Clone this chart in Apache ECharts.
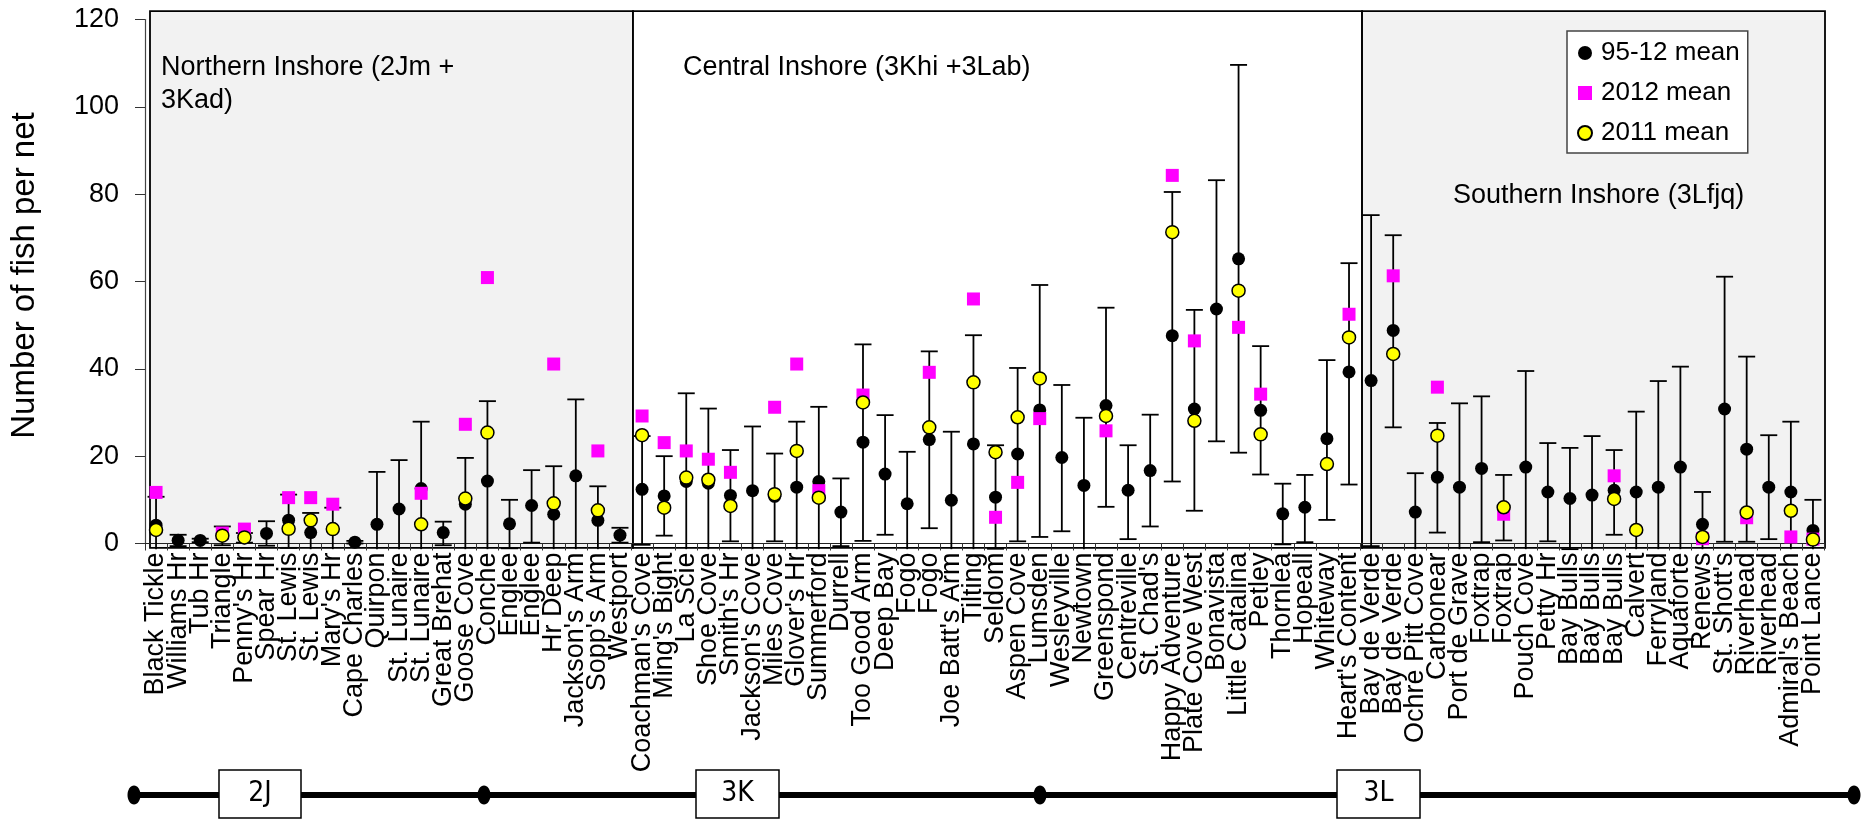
<!DOCTYPE html>
<html>
<head>
<meta charset="utf-8">
<script src="https://cdn.jsdelivr.net/npm/echarts@6.0.0/dist/echarts.min.js"></script>
<style>html,body{margin:0;padding:0;background:#fff;}#chart{width:1875px;height:828px;}</style>
</head>
<body>
<div id="chart"></div>
<script>
const categories = ["Black Tickle","Williams Hr","Tub Hr","Triangle","Penny's Hr","Spear Hr","St. Lewis","St. Lewis","Mary's Hr","Cape Charles",
"Quirpon","St. Lunaire","St. Lunaire","Great Brehat","Goose Cove","Conche","Englee","Englee","Hr Deep","Jackson's Arm",
"Sopp's Arm","Westport","Coachman's Cove","Ming's Bight","La Scie","Shoe Cove","Smith's Hr","Jackson's Cove","Miles Cove","Glover's Hr",
"Summerford","Durrell","Too Good Arm","Deep Bay","Fogo","Fogo","Joe Batt's Arm","Tilting","Seldom","Aspen Cove",
"Lumsden","Wesleyville","Newtown","Greenspond","Centreville","St. Chad's","Happy Adventure","Plate Cove West","Bonavista","Little Catalina",
"Petley","Thornlea","Hopeall","Whiteway","Heart's Content","Bay de Verde","Bay de Verde","Ochre Pitt Cove","Carbonear","Port de Grave",
"Foxtrap","Foxtrap","Pouch Cove","Petty Hr","Bay Bulls","Bay Bulls","Bay Bulls","Calvert","Ferryland","Aquaforte",
"Renews","St. Shott's","Riverhead","Riverhead","Admiral's Beach","Point Lance"];

// 95-12 mean (black circles)
const mean9512 = [4.2,0.75,0.7,1.8,1.3,2.3,5.35,2.5,3.4,0.3,
4.4,7.9,12.6,2.5,9.0,14.3,4.5,8.7,6.7,15.5,
5.3,1.9,12.4,10.9,14.2,13.8,11.0,12.1,10.8,12.9,
14.2,7.2,23.2,15.9,9.1,23.8,9.9,22.8,10.6,20.5,
30.6,19.7,13.3,31.6,12.2,16.7,47.6,30.8,53.7,65.2,
30.5,6.8,8.3,24.0,39.3,37.3,48.8,7.2,15.2,12.9,
17.2,8.2,17.5,11.8,10.3,11.1,12.2,11.8,12.9,17.5,
4.4,30.8,21.6,12.9,11.8,3.0];

// error bar ends for 95-12 mean
const errHigh = [10.7,2.0,1.1,3.9,2.4,5.1,11.2,7.0,8.2,0.6,
16.4,19.1,27.9,5.0,19.6,32.6,10.0,16.8,17.7,33.0,
13.1,3.6,24.6,20.0,34.4,30.9,21.4,26.8,20.6,27.9,
31.3,14.9,45.6,29.4,21.0,44.0,25.6,47.7,22.5,40.2,
59.2,36.3,28.8,54.0,22.5,29.5,80.5,53.5,83.2,109.6,
45.2,13.7,15.7,42.0,64.2,75.2,70.6,16.1,27.6,32.1,
33.7,15.7,39.5,23.0,21.9,24.6,21.4,30.2,37.2,40.5,
11.8,61.1,42.8,24.8,27.9,10.0];
const errLow = [-2.3,-0.6,0.3,-0.4,0.2,-0.5,-1.0,-2.0,-1.4,0.0,
-7.6,-3.3,-2.7,-0.4,-1.6,-4.0,-1.1,0.2,-4.3,-2.0,
-2.5,0.2,-0.3,1.8,-6.0,-3.3,0.5,-2.6,0.5,-2.1,
-2.9,-0.6,0.6,2.0,-2.8,3.5,-5.8,-2.1,-1.2,0.5,
1.5,2.8,-2.2,8.4,1.0,3.9,14.2,7.5,23.4,20.8,
15.8,-0.2,0.3,5.4,13.5,-0.6,26.6,-1.8,2.5,-6.3,
0.3,0.7,-4.5,0.5,-1.3,-2.4,2.0,-6.6,-11.4,-5.5,
-3.0,0.4,0.4,1.0,-4.3,-4.0];

// 2012 mean (magenta squares), null = no value
const mean2012 = [11.7,null,null,2.4,3.3,null,10.5,10.5,9.0,null,
null,null,11.5,null,27.3,60.9,null,null,41.1,null,
21.2,null,29.2,23.1,21.2,19.3,16.3,null,31.2,41.1,
12.1,null,34.0,null,null,39.2,null,56.0,6.0,14.0,
28.6,null,null,25.8,null,null,84.3,46.4,null,49.5,
34.2,null,null,null,52.5,null,61.3,null,35.8,null,
null,6.7,null,null,null,null,15.5,null,null,null,
1.1,null,5.9,null,1.5,1.0];

// 2011 mean (yellow circles)
const mean2011 = [3.1,null,null,1.8,1.4,null,3.35,5.3,3.3,null,
null,null,4.4,null,10.3,25.4,null,null,9.2,null,
7.6,null,24.8,8.2,15.1,14.6,8.6,null,11.3,21.2,
10.5,null,32.3,null,null,26.6,null,36.9,20.9,28.9,
37.8,null,null,29.2,null,null,71.3,28.1,null,57.9,
25.0,null,null,18.2,47.2,null,43.4,null,24.7,null,
null,8.3,null,null,null,null,10.2,3.1,null,null,
1.5,null,7.1,null,7.5,0.9];

const yTicks = {min: 0, max: 120, interval: 20};
const regionLabels = ["Northern Inshore (2Jm +\n3Kad)", "Central Inshore (3Khi +3Lab)", "Southern Inshore (3Lfjq)"];
const regionEnds = [22, 55, 76]; // category count at end of each region
const nafoLabels = ["2J", "3K", "3L"];

const FONT = "'Liberation Sans', Arial, sans-serif";
const NARROW = "'Liberation Sans Narrow', 'Arial Narrow', 'DejaVu Sans Condensed', sans-serif";

function pairs(arr){ const out=[]; arr.forEach((v,i)=>{ if(v!==null && v!==undefined) out.push([i,v]); }); return out; }
const errData = mean9512.map((m,i)=>[i, errHigh[i], errLow[i]]);

const chart = echarts.init(document.getElementById('chart'), null, {renderer:'canvas'});
const FLOOR = -1.3;
const option = {
  animation: false,
  backgroundColor: '#fff',
  textStyle: {fontFamily: FONT},
  grid: {left: 137, top: 19.5, width: 1687, height: 524, containLabel: false},
  legend: {
    data: ['95-12 mean','2012 mean','2011 mean'],
    orient: 'vertical', left: 1567, top: 31,
    padding: [9, 8, 7, 10], itemGap: 14, itemWidth: 14, itemHeight: 14,
    backgroundColor: '#fff', borderColor: '#444', borderWidth: 1.5, borderRadius: 0,
    selectedMode: false, z: 20,
    textStyle: {fontSize: 26, fontFamily: FONT, color: '#000', padding: [0,0,0,4]}
  },
  xAxis: {
    type: 'category', data: categories, boundaryGap: true,
    axisLine: {show: true, lineStyle: {color: '#222', width: 1.2}},
    axisTick: {show: true, length: 7, lineStyle: {color: '#333', width: 1}},
    axisLabel: {rotate: 90, interval: 0, fontSize: 27, fontFamily: FONT, color: '#000', margin: 9},
    splitLine: {show: false}
  },
  yAxis: {
    type: 'value', min: yTicks.min, max: yTicks.max, interval: yTicks.interval,
    name: 'Number of fish per net', nameLocation: 'middle', nameGap: 104, nameRotate: 90,
    nameTextStyle: {fontSize: 33, fontFamily: FONT, color: '#000', padding: [0, 0, 0, 12]},
    axisLine: {show: true, lineStyle: {color: '#444', width: 1.2}},
    axisTick: {show: true, length: 10, lineStyle: {color: '#333', width: 1}},
    axisLabel: {fontSize: 27, fontFamily: FONT, color: '#000', margin: 26},
    splitLine: {show: false}
  },
  series: [
    {
      name: 'err', type: 'custom', clip: false, z: 2, silent: true,
      data: errData,
      encode: {x: 0, y: [1, 2]},
      renderItem: function(params, api){
        const i = api.value(0), hi = api.value(1), lo = api.value(2);
        const top = api.coord([i, hi]);
        const bot = api.coord([i, Math.max(lo, FLOOR)]);
        const hw = 8.5;
        const st = {stroke: '#000', lineWidth: 1.8};
        const ch = [
          {type: 'line', shape: {x1: top[0], y1: top[1], x2: bot[0], y2: bot[1]}, style: st},
          {type: 'line', shape: {x1: top[0]-hw, y1: top[1], x2: top[0]+hw, y2: top[1]}, style: st}
        ];
        if (lo >= FLOOR) ch.push({type: 'line', shape: {x1: bot[0]-hw, y1: bot[1], x2: bot[0]+hw, y2: bot[1]}, style: st});
        return {type: 'group', children: ch};
      }
    },
    {name: '95-12 mean', type: 'scatter', clip: false, z: 3, symbol: 'circle', symbolSize: 13,
     itemStyle: {color: '#000', opacity: 1}, data: pairs(mean9512)},
    {name: '2012 mean', type: 'scatter', clip: false, z: 4, symbol: 'rect', symbolSize: 13,
     itemStyle: {color: '#ff00ff', opacity: 1}, data: pairs(mean2012)},
    {name: '2011 mean', type: 'scatter', clip: false, z: 5, symbol: 'circle', symbolSize: 13,
     itemStyle: {color: '#ffff00', borderColor: '#000', borderWidth: 1.5, opacity: 1}, data: pairs(mean2011)}
  ]
};
chart.setOption(option);

// Region panels and decorations, positioned from the axes
const c0 = chart.convertToPixel({xAxisIndex: 0}, 0);
const c1 = chart.convertToPixel({xAxisIndex: 0}, 1);
const band = c1 - c0;
const bx = k => c0 - band/2 + k*band;
const yTop = chart.convertToPixel({yAxisIndex: 0}, 121.9);
const yBot = chart.convertToPixel({yAxisIndex: 0}, -1.0);
const starts = [bx(0) + 5, bx(regionEnds[0]) + 2, bx(regionEnds[1]) + 2];
const ends = [bx(regionEnds[0]) + 2, bx(regionEnds[1]) + 2, bx(regionEnds[2]) + 1];
const fills = ['#f2f2f2', '#ffffff', '#f2f2f2'];
const graphics = [];
for (let r = 0; r < 3; r++) {
  graphics.push({type: 'rect', z: -10, silent: true,
    shape: {x: starts[r], y: yTop, width: ends[r]-starts[r], height: yBot - yTop},
    style: {fill: fills[r], stroke: '#000', lineWidth: 1.8}});
}
const labelPos = [[161, 51], [683, 51], [1453, 179]];
for (let r = 0; r < 3; r++) {
  graphics.push({type: 'text', z: 1, silent: true, x: labelPos[r][0], y: labelPos[r][1],
    style: {text: regionLabels[r], font: "27px " + FONT, fill: '#000', lineHeight: 33, verticalAlign: 'top', align: 'left'}});
}
// NAFO division strip
const stripY = 795;
graphics.push({type: 'line', z: 1, silent: true, shape: {x1: 134, y1: stripY, x2: 1854, y2: stripY}, style: {stroke: '#000', lineWidth: 6}});
[134, 484, 1040, 1854].forEach(x => graphics.push({type: 'ellipse', z: 2, silent: true, shape: {cx: x, cy: stripY, rx: 6.5, ry: 9.5}, style: {fill: '#000'}}));
const boxes = [[219, 82], [696, 83], [1337, 83]];
boxes.forEach((b, k) => {
  graphics.push({type: 'rect', z: 3, silent: true, shape: {x: b[0], y: 770, width: b[1], height: 48}, style: {fill: '#fff', stroke: '#000', lineWidth: 1.5}});
  graphics.push({type: 'text', z: 4, silent: true, x: b[0] + b[1]/2, y: 794,
    style: {text: nafoLabels[k], font: "28px " + NARROW, fill: '#000', align: 'center', verticalAlign: 'middle'}});
});
chart.setOption({graphic: graphics});
</script>
</body>
</html>
